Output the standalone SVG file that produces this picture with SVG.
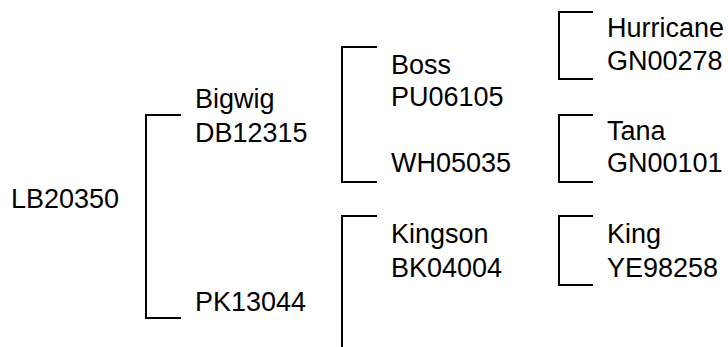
<svg xmlns="http://www.w3.org/2000/svg" width="728" height="347" viewBox="0 0 728 347">
<style>
  .lbl { font-family: "Liberation Sans", Arial, sans-serif; font-size: 27px; fill: #000; }
  .br { fill: none; stroke: #000; stroke-width: 2; stroke-linejoin: miter; stroke-linecap: butt; }
</style>
<rect width="728" height="347" fill="#fff"/>
<g id="connectors">
  <path class="br" d="M181,115 H146 V318 H181"/>
  <path class="br" d="M377,47 H342 V182 H377"/>
  <path class="br" d="M377,216 H342 V350"/>
  <path class="br" d="M593,12 H559 V79 H593"/>
  <path class="br" d="M593,115 H559 V182 H593"/>
  <path class="br" d="M593,216 H559 V285 H593"/>
</g>
<g id="n-LB20350"><text class="lbl" x="11" y="208">LB20350</text></g>
<g id="n-DB12315"><text class="lbl" x="195" y="108">Bigwig</text><text class="lbl" x="195" y="142">DB12315</text></g>
<g id="n-PK13044"><text class="lbl" x="195" y="311">PK13044</text></g>
<g id="n-PU06105"><text class="lbl" x="391" y="74">Boss</text><text class="lbl" x="391" y="106">PU06105</text></g>
<g id="n-WH05035"><text class="lbl" x="391" y="172">WH05035</text></g>
<g id="n-BK04004"><text class="lbl" x="391" y="243">Kingson</text><text class="lbl" x="391" y="277">BK04004</text></g>
<g id="n-GN00278"><text class="lbl" x="607" y="37">Hurricane</text><text class="lbl" x="607" y="70">GN00278</text></g>
<g id="n-GN00101"><text class="lbl" x="607" y="140">Tana</text><text class="lbl" x="607" y="172">GN00101</text></g>
<g id="n-YE98258"><text class="lbl" x="607" y="243">King</text><text class="lbl" x="607" y="277">YE98258</text></g>
</svg>
